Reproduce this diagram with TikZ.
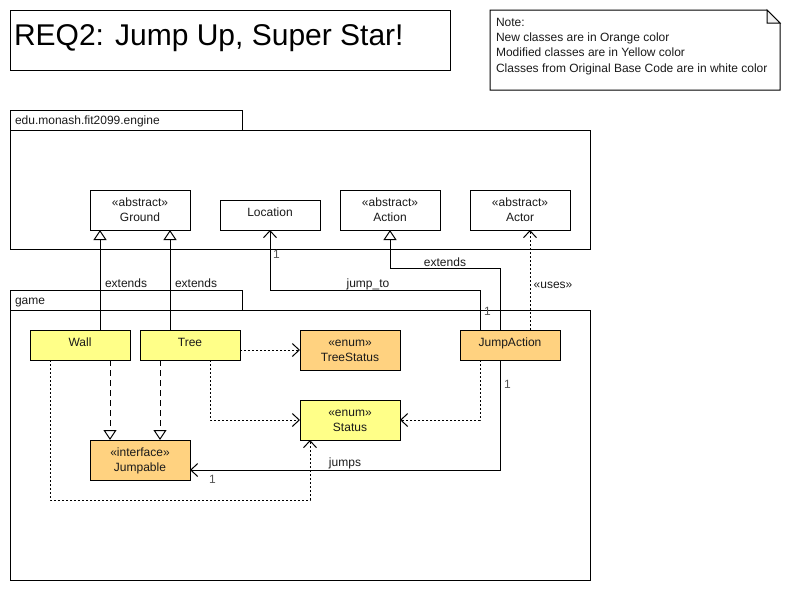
\documentclass[tikz,border=0pt]{standalone}
\usepackage{fontspec}
\setmainfont{Liberation Sans}
\usetikzlibrary{arrows.meta}
\definecolor{yel}{HTML}{FFFF88}
\definecolor{ora}{HTML}{FFD280}
\definecolor{txt}{HTML}{1A1A1A}
\definecolor{mult}{HTML}{555555}
\begin{document}
\begin{tikzpicture}[x=1pt,y=-1pt,line width=1pt,
  every node/.style={inner sep=0pt,outer sep=0pt,text=txt,font=\fontsize{12}{14}\selectfont},
  box/.style={draw,rectangle,anchor=north west,minimum width=100pt},
  lbl/.style={anchor=base},
  small/.style={font=\fontsize{12}{14}\selectfont},
  multl/.style={text=mult,font=\fontsize{12}{14}\selectfont},
  inh/.style={-{Triangle[open,fill=white,length=10pt,width=13pt]}},
  opn/.style={-{Straight Barb[length=7pt,width=13pt]}},
  dotl/.style={dash pattern=on 2pt off 2pt},
  dashl/.style={dash pattern=on 6pt off 4pt}
]
\useasboundingbox (0,0) rectangle (790,590);
% title
\node[draw,anchor=north west,minimum width=440pt,minimum height=60pt] (title) at (10,10) {};
\node[anchor=west,font=\fontsize{30}{34}\selectfont,text=black] (titleT) at (14,38) {REQ2: Jump Up, Super Star!};
% note
\draw (490,10) -- (767,10) -- (780,23) -- (780,90) -- (490,90) -- cycle;
\draw[fill=black!5] (767,10) -- (767,23) -- (780,23) -- cycle;
\node[anchor=north west,align=left,font=\fontsize{12}{15.3}\selectfont] (note) at (496,18)
  {Note:\\New classes are in Orange color\\Modified classes are in Yellow color\\Classes from Original Base Code are in white color};
% packages
\draw (10,110) rectangle (242,130);
\draw (10,130) rectangle (590,249);
\node[anchor=base west,small] (engL) at (15,124) {edu.monash.fit2099.engine};
\draw (10,290) rectangle (242,310);
\draw (10,310) rectangle (590,580);
\node[anchor=base west,small] (gameL) at (15,304) {game};
% engine classes
\node[box,minimum height=40pt] (ground) at (90,190) {};
\node[lbl,small] (groundS) at (140,206) {«abstract»};
\node[lbl] (groundN) at (140,221) {Ground};
\node[box,minimum height=30pt] (location) at (220,200) {};
\node[lbl] (locationN) at (270,216) {Location};
\node[box,minimum height=40pt] (action) at (340,190) {};
\node[lbl,small] (actionS) at (390,206) {«abstract»};
\node[lbl] (actionN) at (390,221) {Action};
\node[box,minimum height=40pt] (actor) at (470,190) {};
\node[lbl,small] (actorS) at (520,206) {«abstract»};
\node[lbl] (actorN) at (520,221) {Actor};
% game classes
\node[box,fill=yel,minimum height=30pt] (wall) at (30,330) {};
\node[lbl] (wallN) at (80,346) {Wall};
\node[box,fill=yel,minimum height=30pt] (tree) at (140,330) {};
\node[lbl] (treeN) at (190,346) {Tree};
\node[box,fill=ora,minimum height=40pt] (treestatus) at (300,330) {};
\node[lbl,small] (treestatusS) at (350,346) {«enum»};
\node[lbl] (treestatusN) at (350,361) {TreeStatus};
\node[box,fill=ora,minimum height=30pt] (jumpaction) at (460,330) {};
\node[lbl] (jumpactionN) at (510,346) {JumpAction};
\node[box,fill=yel,minimum height=40pt] (status) at (300,400) {};
\node[lbl,small] (statusS) at (350,416) {«enum»};
\node[lbl] (statusN) at (350,431) {Status};
\node[box,fill=ora,minimum height=40pt] (jumpable) at (90,440) {};
\node[lbl,small] (jumpableS) at (140,456) {«interface»};
\node[lbl] (jumpableN) at (140,471) {Jumpable};
% extends Ground
\draw[inh] (wall.north west) ++(70,0) -- ([xshift=-40pt]ground.south);
\draw[inh] (tree.north west) ++(30,0) -- ([xshift=30pt]ground.south);
\node[anchor=base west] (ext1) at (105,287) {extends};
\node[anchor=base west] (ext2) at (175,287) {extends};
% jump_to Location
\draw[opn] ([xshift=-30pt]jumpaction.north) -- ++(0,-40) -| (location.south);
\node[anchor=base west,multl] (m1) at (273,258) {1};
\node[anchor=base] (jumpto) at (368,287) {jump\_to};
\node[anchor=base west,multl] (m2) at (484,315) {1};
% extends Action
\draw[inh] ([xshift=-10pt]jumpaction.north) -- ++(0,-62) -| (action.south);
\node[anchor=base] (ext3) at (445,266) {extends};
% uses Actor
\draw[opn,dotl] ([xshift=20pt]jumpaction.north) -- ([xshift=10pt]actor.south);
\node[anchor=base,small] (uses) at (553,288) {«uses»};
% Tree -> TreeStatus
\draw[opn,dotl] ([yshift=-5pt]tree.east) -- (treestatus.west);
% Tree -> Status
\draw[opn,dotl] ([xshift=20pt]tree.south) -- ++(0,60) -- (status.west);
% JumpAction -> Status
\draw[opn,dotl] ([xshift=-30pt]jumpaction.south) -- ++(0,60) -- (status.east);
% implements Jumpable
\draw[inh,dashl] ([xshift=30pt]wall.south) -- ([xshift=-30pt]jumpable.north);
\draw[inh,dashl] ([xshift=-30pt]tree.south) -- ([xshift=20pt]jumpable.north);
% jumps
\draw[opn] ([xshift=-10pt]jumpaction.south) -- ++(0,110) -- ([yshift=-10pt]jumpable.east);
\node[anchor=base west,multl] (m3) at (504,388) {1};
\node[anchor=base] (jumps) at (345,466) {jumps};
\node[anchor=base west,multl] (m4) at (209,483) {1};
% Wall -> Status
\draw[opn,dotl] ([xshift=-30pt]wall.south) -- ++(0,140) -| ([xshift=-40pt]status.south);
\end{tikzpicture}
\end{document}
